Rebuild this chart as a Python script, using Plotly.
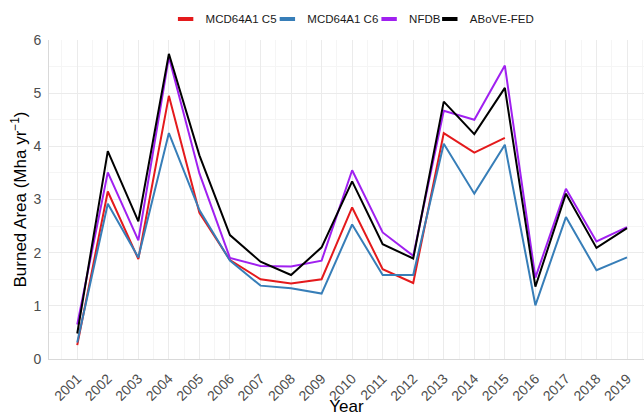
import plotly.graph_objects as go

years = list(range(2001, 2020))
mcd_c5 = [0.26, 3.15, 1.88, 4.95, 2.75, 1.86, 1.50, 1.42, 1.50, 2.85, 1.69, 1.43, 4.25, 3.88, 4.16,
          None, None, None, None]
mcd_c6 = [0.31, 2.92, 1.91, 4.25, 2.80, 1.85, 1.38, 1.33, 1.23, 2.53, 1.58, 1.58, 4.05, 3.11, 4.03,
          1.01, 2.67, 1.67, 1.91]
nfdb = [0.65, 3.51, 2.23, 5.68, 3.49, 1.90, 1.75, 1.74, 1.85, 3.55, 2.38, 1.94, 4.67, 4.50, 5.52,
        1.53, 3.20, 2.21, 2.48]
above_fed = [0.48, 3.91, 2.59, 5.74, 3.83, 2.33, 1.83, 1.58, 2.10, 3.34, 2.16, 1.89, 4.84, 4.23, 5.10,
             1.36, 3.11, 2.09, 2.46]

series = [
    ("MCD64A1 C5", mcd_c5, "#E41A1C"),
    ("MCD64A1 C6", mcd_c6, "#377EB8"),
    ("NFDB", nfdb, "#A020F0"),
    ("ABoVE-FED", above_fed, "#000000"),
]

# legend entry left edges (paper fraction of plot width)
legend_x = [0.196, 0.367, 0.538, 0.640]
legend_ids = ["legend", "legend2", "legend3", "legend4"]

fig = go.Figure()
for name, vals, col in series:
    fig.add_trace(go.Scatter(x=years, y=vals, mode="lines", name=name, showlegend=False,
                             line=dict(color=col, width=2), connectgaps=False))
# legend keys: short thick swatches, one legend box per entry for spacing
for (name, vals, col), lid in zip(series, legend_ids):
    fig.add_trace(go.Scatter(x=[None], y=[None], mode="markers", name=name, showlegend=True,
                             legend=lid,
                             marker=dict(symbol="line-ew", size=11, color=col,
                                         line=dict(color=col, width=4))))

legend_common = dict(orientation="h", xanchor="left", y=1.066, yanchor="middle",
                     font=dict(size=11.5, color="#1a1a1a"), itemwidth=30,
                     bgcolor="rgba(0,0,0,0)", borderwidth=0)
layout_legends = {lid: dict(x=lx, **legend_common) for lid, lx in zip(legend_ids, legend_x)}

fig.update_layout(
    width=644, height=416,
    margin=dict(l=49, r=0, t=40, b=57),
    paper_bgcolor="white", plot_bgcolor="white",
    font=dict(family="Liberation Sans, Arial, sans-serif", color="#000000"),
    showlegend=True,
    **layout_legends,
    xaxis=dict(
        range=[2000.075, 2019.556], tickmode="array", tickvals=years,
        ticktext=[str(y) for y in years], tickangle=-45,
        tickfont=dict(size=14, color="#4D4D4D"),
        showgrid=True, gridcolor="#EBEBEB", gridwidth=1,
        minor=dict(showgrid=True, dtick=0.5, tick0=2000.5, gridcolor="#F5F5F5", gridwidth=1),
        showline=True, linecolor="#D9D9D9", linewidth=1,
        zeroline=False, ticks="", ticklabelstandoff=5,
        title=dict(text="Year", font=dict(size=17, color="#000000"), standoff=0),
    ),
    yaxis=dict(
        range=[0, 6], tickvals=[0, 1, 2, 3, 4, 5, 6],
        tickfont=dict(size=14, color="#4D4D4D"),
        showgrid=True, gridcolor="#EBEBEB", gridwidth=1,
        minor=dict(showgrid=True, dtick=0.5, gridcolor="#F5F5F5", gridwidth=1),
        showline=True, linecolor="#D9D9D9", linewidth=1,
        zeroline=False, ticks="", ticklabelstandoff=4,
        title=dict(text="Burned Area (Mha yr<sup>−1</sup>)", font=dict(size=17, color="#000000"),
                   standoff=2),
    ),
)

fig.write_html("out.html", config={"displayModeBar": False},
               post_script="document.body.style.margin='0';document.body.style.overflow='hidden';")
